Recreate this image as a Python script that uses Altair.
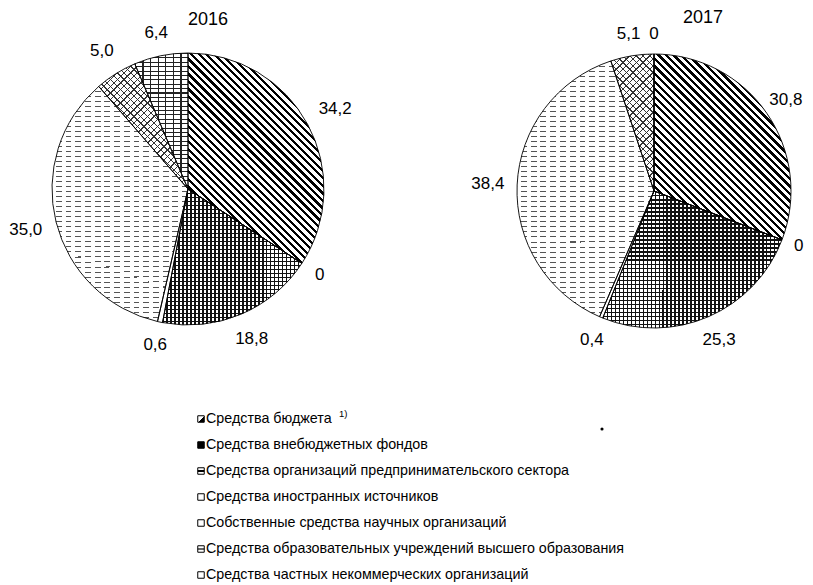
import math
import altair as alt
import pandas as pd

# ---------------- data ----------------
years = ["2016", "2017"]
keys = ["budget", "offbudget", "business", "foreign", "own", "higher", "private"]
categories = [
    "Средства бюджета",
    "Средства внебюджетных фондов",
    "Средства организаций предпринимательского сектора",
    "Средства иностранных источников",
    "Собственные средства научных организаций",
    "Средства образовательных учреждений высшего образования",
    "Средства частных некоммерческих организаций",
]
values_2016 = [34.2, 0, 18.8, 0.6, 35.0, 5.0, 6.4]
values_2017 = [30.8, 0, 25.3, 0.4, 38.4, 5.1, 0]
footnote_mark = "1)"


def fmt(v):
    return "0" if v == 0 else f"{v:.1f}".replace(".", ",")


rows = []
for year, vals in zip(years, [values_2016, values_2017]):
    for i, (k, v) in enumerate(zip(keys, vals)):
        rows.append({"year": year, "key": k, "order": i, "value": v, "label": fmt(v)})
df = pd.DataFrame(rows)

leg_df = pd.DataFrame({"key": keys, "name": categories, "row": list(range(len(keys)))})

# ---------------- styling ----------------
FONT = "Liberation Sans"
CLEAR = "rgba(255,255,255,0)"
EPS = 1e-4
W, H = 797, 576

PIES = {
    "2016": dict(cx=180, cy=181, r=136, lr=150, tx=200, ty=12),
    "2017": dict(cx=646, cy=183, r=137, lr=150, tx=695, ty=10),
}

PATTERNS = {
    "budget": [("bs", 5.3, 0.42, "#000")],
    "business": [("v", 4.0, 0.36, "#111"), ("h", 4.0, 0.36, "#111")],
    "own": [("h", 5.0, 0.2, "#555"), ("v", 10.0, 0.4, "#fff")],
    "higher": [("bs", 4.8, 0.2, "#333"), ("fs", 4.8, 0.2, "#333")],
    "private": [("h", 4.4, 0.24, "#222"), ("v", 8.0, 0.15, "#222")],
}


def wedge_box(a0, a1, r):
    pts = [(0.0, 0.0)]
    angs = [a0, a1] + [q for q in (0, 90, 180, 270, 360) if a0 < q < a1]
    for a in angs:
        t = math.radians(a)
        pts.append((r * math.sin(t), -r * math.cos(t)))
    xs = [p[0] for p in pts]
    ys = [p[1] for p in pts]
    return max(xs) - min(xs), max(ys) - min(ys)


def stripes(kind, w, h, period, frac, color):
    if w < 1 or h < 1:
        return None
    if kind == "h":
        x1, y1, x2, y2, span = 0, 0, EPS, 1, h
    elif kind == "v":
        x1, y1, x2, y2, span = 0, 0, 1, EPS, w
    else:
        k = h / w
        s = (1 + k) / (1 + k * k)
        span = (w + h) / math.sqrt(2)
        if kind == "bs":
            x1, y1, x2, y2 = 0, 1, s, (1 - s * k) or EPS
        else:
            x1, y1, x2, y2 = 0, 0, s, s * k
    n = max(1, round(span / period))
    stops = []
    for i in range(n):
        a, b, c = i / n, (i + frac) / n, (i + 1) / n
        stops += [
            {"offset": a, "color": color},
            {"offset": b, "color": color},
            {"offset": b, "color": CLEAR},
            {"offset": c, "color": CLEAR},
        ]
    return {"gradient": "linear", "x1": x1, "y1": y1, "x2": x2, "y2": y2, "stops": stops}


def cond_fill(mapping, default):
    conds = [{"test": f"datum.key === '{k}'", "value": g} for k, g in mapping.items()]
    if not conds:
        return {"value": default}
    return {"condition": conds, "value": default}


layers = []
for year, vals in zip(years, [values_2016, values_2017]):
    P = PIES[year]
    total = sum(vals)
    cum = 0.0
    boxes = {}
    for k, v in zip(keys, vals):
        a0 = cum / total * 360
        cum += v
        a1 = cum / total * 360
        boxes[k] = wedge_box(a0, a1, P["r"])

    base = alt.Chart(df).transform_filter(alt.datum.year == year).encode(
        theta=alt.Theta("value:Q", stack=True, scale=alt.Scale(domain=[0, 100])),
        order=alt.Order("order:Q"),
        x=alt.value(P["cx"]),
        y=alt.value(P["cy"]),
    )

    layers.append(
        base.mark_arc(radius=P["r"]).encode(
            fill=cond_fill({"offbudget": "#000"}, "#fff")
        )
    )
    for idx in range(2):
        mapping = {}
        for k, pats in PATTERNS.items():
            if idx < len(pats):
                kind, period, frac, color = pats[idx]
                w, h = boxes[k]
                g = stripes(kind, w, h, period, frac, color)
                if g is not None:
                    mapping[k] = g
        layers.append(base.mark_arc(radius=P["r"]).encode(fill=cond_fill(mapping, CLEAR)))

    layers.append(
        base.mark_arc(radius=P["r"], fill="#fff", fillOpacity=0, stroke="#000", strokeWidth=0.9)
    )
    # labels: middle angle of each slice, pushed out by the text's extent,
    # and kept inside the right edge of the canvas
    mid = f"((datum.cum - datum.value / 2) / {total} * 2 * PI)"
    raw = (f"({P['lr']} + 4 * length(datum.label) * abs(sin({mid}))"
           f" + 7 * abs(cos({mid})))")
    cap = f"(({W - 2} - 4.3 * length(datum.label) - {P['cx']}) / sin({mid}))"
    layers.append(
        alt.Chart(df)
        .transform_filter(alt.datum.year == year)
        .transform_window(cum="sum(value)", sort=[alt.SortField("order")], frame=[None, 0])
        .transform_calculate(
            mid=mid,
            lr=f"sin({mid}) > 0.1 ? min({raw}, {cap}) : {raw}",
        )
        .mark_text(font=FONT, fontSize=17, color="#000")
        .encode(
            theta=alt.Theta("mid:Q", scale=None),
            radius=alt.Radius("lr:Q", scale=None),
            x=alt.value(P["cx"]),
            y=alt.value(P["cy"]),
            text="label:N",
        )
    )
    layers.append(
        alt.Chart(pd.DataFrame({"t": [year]}))
        .mark_text(font=FONT, fontSize=18, color="#000")
        .encode(text="t:N", x=alt.value(P["tx"]), y=alt.value(P["ty"]))
    )

# ---------------- legend ----------------
ICONS = {
    "budget": {"gradient": "linear", "x1": 0, "y1": 0, "x2": 1, "y2": 1,
               "stops": [{"offset": 0, "color": "#fff"}, {"offset": 0.5, "color": "#fff"},
                         {"offset": 0.5, "color": "#000"}, {"offset": 1, "color": "#000"}]},
    "offbudget": "#000",
    "business": {"gradient": "linear", "x1": 0, "y1": 0, "x2": EPS, "y2": 1,
                 "stops": [{"offset": 0, "color": "#fff"}, {"offset": 0.3, "color": "#fff"},
                           {"offset": 0.3, "color": "#000"}, {"offset": 0.7, "color": "#000"},
                           {"offset": 0.7, "color": "#fff"}, {"offset": 1, "color": "#fff"}]},
    "higher": {"gradient": "linear", "x1": 0, "y1": 0, "x2": EPS, "y2": 1,
               "stops": [{"offset": 0, "color": "#fff"}, {"offset": 0.35, "color": "#fff"},
                         {"offset": 0.35, "color": "#666"}, {"offset": 0.6, "color": "#666"},
                         {"offset": 0.6, "color": "#fff"}, {"offset": 1, "color": "#fff"}]},
}

leg_y = alt.Y("row:Q", scale=alt.Scale(domain=[0, 6], range=[411, 567]), axis=None)
layers.append(
    alt.Chart(leg_df)
    .mark_square(size=42, stroke="#000", strokeWidth=1, opacity=1)
    .encode(x=alt.value(193), y=leg_y, fill=cond_fill(ICONS, "#fff"))
)
layers.append(
    alt.Chart(leg_df)
    .mark_text(align="left", baseline="middle", font=FONT, fontSize=14.3, color="#000")
    .encode(x=alt.value(198), y=leg_y, text="name:N")
)
layers.append(
    alt.Chart(pd.DataFrame({"t": [footnote_mark]}))
    .mark_text(align="left", font=FONT, fontSize=9.5, color="#000")
    .encode(text="t:N", x=alt.value(331), y=alt.value(406))
)
layers.append(
    alt.Chart(pd.DataFrame({"t": [""]}))
    .mark_circle(size=10, color="#000", opacity=1)
    .encode(x=alt.value(594), y=alt.value(421))
)

chart = (
    alt.layer(*layers)
    .properties(width=W, height=H, padding=0, autosize="none", background="#fff")
    .configure_view(stroke=None)
)

chart.save("out.html", embed_options={"renderer": "svg", "actions": False})
